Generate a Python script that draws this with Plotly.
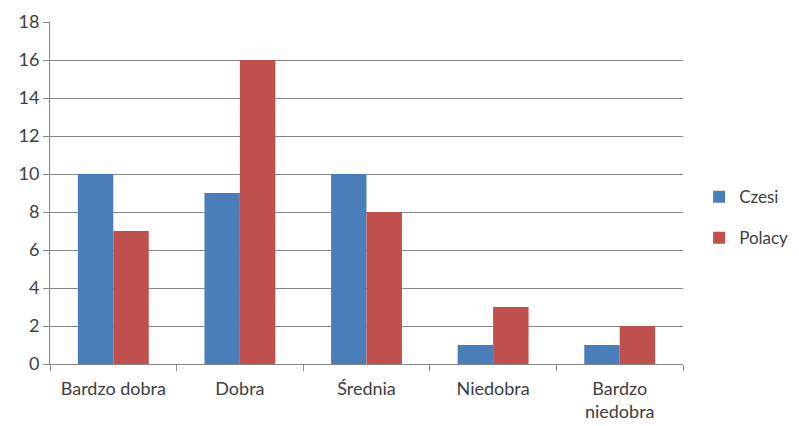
import plotly.graph_objects as go

categories = ["Bardzo dobra", "Dobra", "Średnia", "Niedobra", "Bardzo<br>niedobra"]
czesi = [10, 9, 10, 1, 1]
polacy = [7, 16, 8, 3, 2]
y_ticks = [0, 2, 4, 6, 8, 10, 12, 14, 16, 18]

FONT = "Lato, Open Sans, sans-serif"
GRID = "#868686"

fig = go.Figure()
fig.add_trace(go.Bar(name="Czesi", x=categories, y=czesi, marker_color="#4A7EBB",
                     marker_line_width=0, legendgroup="a"))
fig.add_trace(go.Bar(name="Polacy", x=categories, y=polacy, marker_color="#C0504D",
                     marker_line_width=0, legendgroup="b"))

fig.update_layout(
    width=799, height=426,
    margin=dict(l=50, r=116, t=22, b=62, autoexpand=False),
    paper_bgcolor="white", plot_bgcolor="white",
    barmode="group", bargap=0.44, bargroupgap=0,
    font=dict(family=FONT, size=18, color="#404040"),
    showlegend=True,
    legend=dict(x=0.875, y=0.428, xref="container", xanchor="left", yanchor="middle",
                traceorder="grouped", tracegroupgap=16, itemwidth=30,
                font=dict(size=17, color="#404040")),
)
fig.update_xaxes(
    type="category", showline=True, linecolor=GRID, linewidth=1,
    ticks="outside", tickson="boundaries", ticklen=6, tickcolor=GRID,
    showgrid=False, tickfont=dict(size=18), ticklabelstandoff=8,
)
fig.update_yaxes(
    range=[0, 18], tickvals=y_ticks, showgrid=True, gridcolor=GRID, gridwidth=1,
    showline=True, linecolor=GRID, linewidth=1, ticks="outside", ticklen=6,
    tickcolor=GRID, zeroline=False, tickfont=dict(size=18),
)

fig.write_html("out.html")
